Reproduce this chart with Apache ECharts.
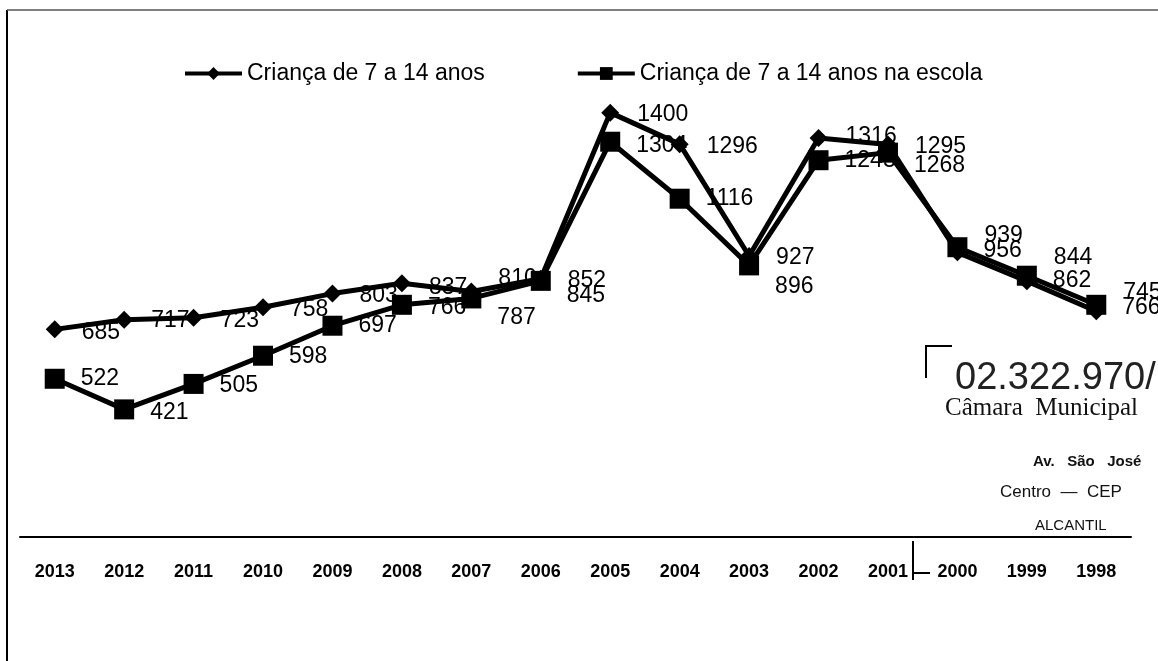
<!DOCTYPE html>
<html>
<head>
<meta charset="utf-8">
<script src="https://cdn.jsdelivr.net/npm/echarts@6/dist/echarts.min.js"></script>
<style>
html,body{margin:0;padding:0;background:#fff;}
#chart{width:1158px;height:661px;}
</style>
</head>
<body>
<div id="chart"></div>
<script>
const years = ['2013','2012','2011','2010','2009','2008','2007','2006','2005','2004','2003','2002','2001','2000','1999','1998'];
const totalChildren = [685,717,723,758,803,837,810,852,1400,1296,927,1316,1295,939,844,745];
const childrenInSchool = [522,421,505,598,697,766,787,845,1304,1116,896,1243,1268,956,862,766];
const seriesNames = ['Criança de 7 a 14 anos','Criança de 7 a 14 anos na escola'];

// vertical nudges of the value labels (layout only)
const totalLabelDy = [3,1,3,2,2,4,-13,2,2,3,2,-1,2,-17,-24,-19];
const schoolLabelDy = [0,3,2,1,0,3,19,15,4,0,21,0,13,3,5,3];

const FONT = "'Liberation Sans', Arial, sans-serif";

function withLabels(values, dys){
  return values.map((v,i)=>({value:v,label:{offset:[0,dys[i]]}}));
}

const chart = echarts.init(document.getElementById('chart'));
chart.setOption({
  animation:false,
  backgroundColor:'#fff',
  legend:{
    left:178, top:57,
    itemWidth:57, itemHeight:16, itemGap:91,
    lineStyle:{width:4,color:'#000'},
    textStyle:{fontFamily:FONT,fontSize:23,color:'#000'},
    data:seriesNames
  },
  grid:{left:20,right:27,top:52,bottom:124},
  xAxis:{
    type:'category', data:years, boundaryGap:true,
    axisLine:{lineStyle:{color:'#000',width:2}},
    axisTick:{show:false},
    axisLabel:{color:'#000',fontFamily:FONT,fontSize:18,fontWeight:'bold',margin:26,interval:0}
  },
  yAxis:{
    type:'value', min:0, max:1600, show:false,
    splitLine:{show:false}
  },
  series:[
    {
      name:seriesNames[0], type:'line',
      data:withLabels(totalChildren,totalLabelDy),
      symbol:'diamond', symbolSize:18,
      lineStyle:{color:'#000',width:5},
      itemStyle:{color:'#000'},
      label:{show:true,position:'right',distance:18,color:'#000',fontFamily:FONT,fontSize:23},
      z:3
    },
    {
      name:seriesNames[1], type:'line',
      data:withLabels(childrenInSchool,schoolLabelDy),
      symbol:'rect', symbolSize:20,
      lineStyle:{color:'#000',width:5},
      itemStyle:{color:'#000'},
      label:{show:true,position:'right',distance:16,color:'#000',fontFamily:FONT,fontSize:23},
      z:2
    }
  ],
  graphic:[
    {type:'line',shape:{x1:7,y1:10,x2:7,y2:661},style:{stroke:'#000',lineWidth:2},silent:true},
    {type:'line',shape:{x1:7,y1:10,x2:1158,y2:10},style:{stroke:'#555',lineWidth:1.5},silent:true},
    {type:'polyline',shape:{points:[[926,378],[926,346],[952,346]]},style:{stroke:'#000',lineWidth:2,fill:null},silent:true},
    {type:'text',left:955,top:360,style:{text:'02.322.970/',font:"38px 'Liberation Sans', Arial",fill:'#222'},silent:true},
    {type:'text',left:945,top:396,style:{text:'Câmara  Municipal',font:"25px 'Liberation Serif', serif",fill:'#111'},silent:true},
    {type:'text',left:1033,top:454,style:{text:'Av.   São   José',font:"bold 15px 'Liberation Sans', Arial",fill:'#111'},silent:true},
    {type:'text',left:1000,top:484,style:{text:'Centro  —  CEP',font:"17px 'Liberation Sans Narrow', 'Liberation Sans', Arial",fill:'#111'},silent:true},
    {type:'text',left:1035,top:518,style:{text:'ALCANTIL',font:"15px 'Liberation Sans Narrow', 'Liberation Sans', Arial",fill:'#111'},silent:true},
    {type:'line',shape:{x1:913,y1:541,x2:913,y2:580},style:{stroke:'#000',lineWidth:2},silent:true},
    {type:'line',shape:{x1:913,y1:573,x2:930,y2:573},style:{stroke:'#000',lineWidth:2},silent:true}
  ]
});
</script>
</body>
</html>
